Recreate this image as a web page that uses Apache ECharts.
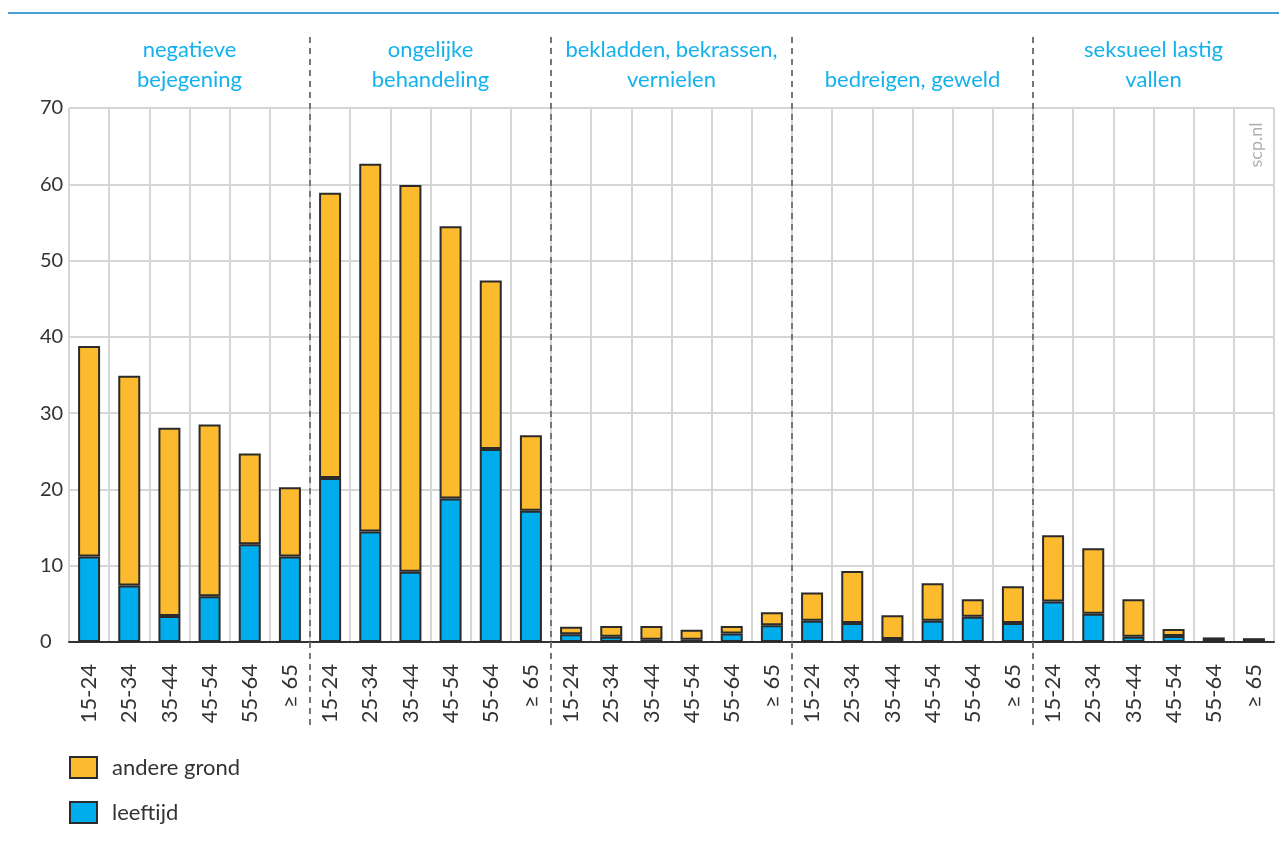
<!DOCTYPE html>
<html>
<head>
<meta charset="utf-8">
<script src="https://cdn.jsdelivr.net/npm/echarts@6/dist/echarts.min.js"></script>
<style>
  html, body { margin: 0; padding: 0; background: #fff; }
  #chart { width: 1279px; height: 847px; }
</style>
</head>
<body>
<div id="chart"></div>
<script>
// leeftijdsklassen, herhaald per groep
const ageBands = ['15-24', '25-34', '35-44', '45-54', '55-64', '≥ 65'];
const groups = [
  'negatieve\nbejegening',
  'ongelijke\nbehandeling',
  'bekladden, bekrassen,\nvernielen',
  'bedreigen, geweld',
  'seksueel lastig\nvallen'
];

// totaal per balk (leeftijd + andere grond)
const totals = [
  38.8, 34.9, 28.1, 28.5, 24.7, 20.3,
  58.9, 62.7, 59.9, 54.5, 47.4, 27.1,
  2.0, 2.1, 2.1, 1.6, 2.1, 3.9,
  6.5, 9.3, 3.5, 7.7, 5.6, 7.3,
  14.0, 12.3, 5.6, 1.7, 0.6, 0.5
];
// deel op grond van leeftijd
const leeftijd = [
  11.2, 7.4, 3.4, 6.0, 12.8, 11.2,
  21.5, 14.5, 9.2, 18.8, 25.3, 17.2,
  1.0, 0.7, 0.3, 0.3, 1.1, 2.2,
  2.8, 2.5, 0.4, 2.8, 3.3, 2.5,
  5.3, 3.7, 0.7, 0.8, 0.1, 0.1
];
const andereGrond = totals.map((t, i) => +(t - leeftijd[i]).toFixed(1));

const categories = [];
groups.forEach(() => ageBands.forEach(a => categories.push(a)));

const font = 'Lato, "Noto Sans", sans-serif';
const chart = echarts.init(document.getElementById('chart'));

chart.setOption({
  animation: false,
  textStyle: { fontFamily: font },
  grid: { left: 69, right: 5, top: 108, bottom: 205 },
  legend: {
    orient: 'vertical',
    left: 69,
    top: 756,
    padding: 0,
    itemWidth: 27,
    itemHeight: 21,
    itemGap: 22,
    icon: 'rect',
    data: ['andere grond', 'leeftijd'],
    textStyle: { fontSize: 22, color: '#333', padding: [0, 0, 0, 10], fontFamily: font }
  },
  xAxis: [
    {
      type: 'category',
      data: categories,
      axisLine: { lineStyle: { color: '#333', width: 2 } },
      axisTick: { alignWithLabel: true, length: 12, lineStyle: { color: '#333', width: 2 } },
      axisLabel: { interval: 0, rotate: 90, margin: 22, fontSize: 22, color: '#333', fontFamily: font },
      splitLine: { show: true, interval: 0, lineStyle: { color: '#d6d6d6', width: 2 } }
    },
    {
      type: 'category',
      position: 'top',
      data: groups,
      axisLine: { show: false },
      axisTick: { show: false },
      axisLabel: { interval: 0, margin: 13, fontSize: 22, lineHeight: 30, color: '#14b1ec', fontFamily: font }
    }
  ],
  yAxis: {
    type: 'value',
    min: 0,
    max: 70,
    interval: 10,
    axisLine: { show: false },
    axisTick: { show: false },
    axisLabel: { align: 'left', margin: 29, fontSize: 20, color: '#333', fontFamily: font },
    splitLine: { lineStyle: { color: '#d6d6d6', width: 2 } }
  },
  series: [
    {
      name: 'leeftijd',
      type: 'bar',
      stack: 'totaal',
      barWidth: 22,
      data: leeftijd,
      itemStyle: { color: '#00adec', borderColor: '#2b2b2b', borderWidth: 2 }
    },
    {
      name: 'andere grond',
      type: 'bar',
      stack: 'totaal',
      barWidth: 22,
      data: andereGrond,
      itemStyle: { color: '#fcba2e', borderColor: '#2b2b2b', borderWidth: 2 }
    }
  ]
});

// scheidingslijnen tussen de groepen, op de grenzen van de categorie-as
const extra = [];
for (let g = 1; g < groups.length; g++) {
  const i = g * ageBands.length;
  const a = chart.convertToPixel({ xAxisIndex: 0 }, i - 1);
  const b = chart.convertToPixel({ xAxisIndex: 0 }, i);
  const x = Math.round((a + b) / 2);
  extra.push({
    type: 'line',
    shape: { x1: x, y1: 37, x2: x, y2: 728 },
    style: { stroke: '#777', lineWidth: 2, lineDash: [6, 5] },
    z: 10
  });
}
extra.push({
  type: 'line',
  shape: { x1: 8, y1: 13, x2: 1279, y2: 13 },
  style: { stroke: '#4a9fd6', lineWidth: 2 }
});
extra.push({
  type: 'text',
  x: 1256,
  y: 145,
  rotation: Math.PI / 2,
  style: { text: 'scp.nl', fill: '#b0b0b0', fontSize: 18, fontFamily: font, align: 'center', verticalAlign: 'middle' }
});
chart.setOption({ graphic: extra });
</script>
</body>
</html>
